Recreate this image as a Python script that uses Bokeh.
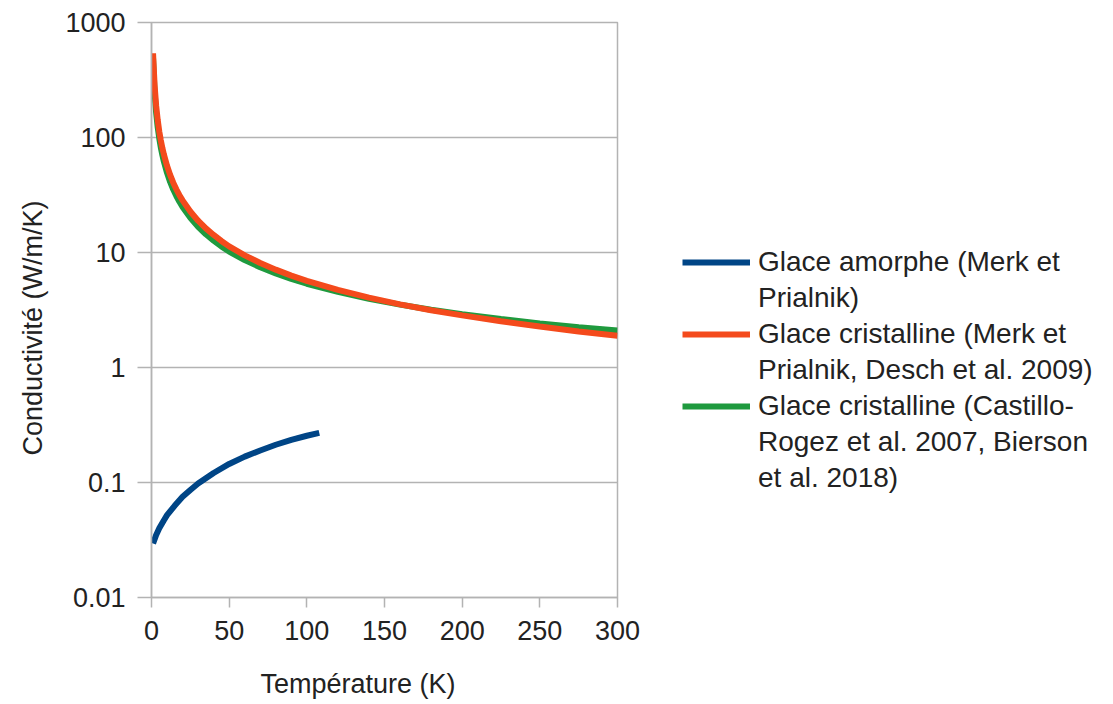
from bokeh.plotting import figure
from bokeh.models import Legend, LegendItem, FixedTicker, Range1d, Title
from bokeh.embed import file_html
from bokeh.resources import INLINE

# --- data ---
t_amorph = [1, 3, 5, 8, 10, 15, 20, 25, 30, 40, 50, 60, 70, 80, 90, 100, 108]
k_amorph = [0.0295, 0.035, 0.040, 0.047, 0.052, 0.063, 0.075, 0.086, 0.098,
            0.121, 0.145, 0.168, 0.19, 0.213, 0.235, 0.255, 0.27]

t_cryst = [1, 2, 3, 4, 5, 6, 7, 8, 10, 12, 14, 16, 18, 20, 25, 30, 35, 40, 45,
           50, 60, 70, 80, 90, 100, 120, 140, 160, 180, 200, 225, 250, 275, 300]
k_merk = [540, 284, 189, 142, 113, 94.5, 81, 71, 56.7, 47.3, 40.5, 35.4, 31.5,
          28.4, 22.7, 18.9, 16.2, 14.2, 12.6, 11.3, 9.45, 8.1, 7.09, 6.3, 5.67,
          4.73, 4.05, 3.54, 3.15, 2.84, 2.52, 2.27, 2.06, 1.89]
k_castillo = [488.6, 244.5, 163.2, 122.5, 98.1, 81.8, 70.2, 61.5, 49.3, 41.1,
              35.3, 31.0, 27.6, 24.9, 20.0, 16.7, 14.4, 12.7, 11.3, 10.2, 8.6,
              7.44, 6.57, 5.89, 5.35, 4.54, 3.95, 3.52, 3.18, 2.91, 2.64, 2.42,
              2.24, 2.10]

# legend labels, one list of text lines per series
labels = [["Glace amorphe (Merk et", "Prialnik)"],
          ["Glace cristalline (Merk et", "Prialnik, Desch et al. 2009)"],
          ["Glace cristalline (Castillo-", "Rogez et al. 2007, Bierson",
           "et al. 2018)"]]

y_ticks = [0.01, 0.1, 1, 10, 100, 1000]
y_tick_labels = ["0.01", "0.1", "1", "10", "100", "1000"]
x_ticks = [0, 50, 100, 150, 200, 250, 300]

FONT = "Liberation Sans"
GRID = "#b3b3b3"
TXT = "#222222"
C_BLUE = "#004586"
C_RED = "#f44a1c"
C_GREEN = "#1f9a3e"

p = figure(frame_width=466, frame_height=575, y_axis_type="log",
           x_range=Range1d(0, 300), y_range=Range1d(0.01, 1000),
           output_backend="svg", toolbar_location=None,
           min_border_left=151, min_border_top=22, min_border_right=480,
           min_border_bottom=105)

r_blue = p.line(t_amorph, k_amorph, line_color=C_BLUE, line_width=6)
r_green = p.line(t_cryst, k_castillo, line_color=C_GREEN, line_width=6)
r_red = p.line(t_cryst, k_merk, line_color=C_RED, line_width=6)
r_none = p.line([], [], line_alpha=0)   # invisible glyph for continuation lines

p.xgrid.visible = False
p.ygrid.grid_line_color = GRID
p.ygrid.grid_line_width = 1.5
p.ygrid.minor_grid_line_color = None
p.outline_line_color = GRID
p.outline_line_width = 1.5

p.xaxis.ticker = FixedTicker(ticks=x_ticks)
p.yaxis.ticker = FixedTicker(ticks=y_ticks)
p.yaxis.major_label_overrides = {v: s for v, s in zip(y_ticks, y_tick_labels)}

for ax in (p.xaxis[0], p.yaxis[0]):
    ax.axis_line_color = GRID
    ax.axis_line_width = 1.5
    ax.major_tick_line_color = GRID
    ax.major_tick_line_width = 1.5
    ax.major_tick_in = 0
    ax.minor_tick_line_color = None
    ax.major_label_text_font = FONT
    ax.major_label_text_font_size = "27px"
    ax.major_label_text_color = TXT

p.xaxis.major_tick_out = 10
p.yaxis.major_tick_out = 14
p.xaxis.major_label_standoff = 13
p.yaxis.major_label_standoff = 12

xt = Title(text="Température (K)", align="left", offset=109,
           text_font=FONT, text_font_size="27px", text_font_style="normal",
           text_color=TXT, standoff=48)
p.add_layout(xt, "below")
yt = Title(text="Conductivité (W/m/K)", align="left", offset=142,
           text_font=FONT, text_font_size="27px", text_font_style="normal",
           text_color=TXT, standoff=30)
p.add_layout(yt, "left")

items = []
for lines, r in zip(labels, [r_blue, r_red, r_green]):
    for i, ln in enumerate(lines):
        items.append(LegendItem(label=ln, renderers=[r if i == 0 else r_none]))

legend = Legend(items=items, location=(65, 103))
legend.border_line_color = None
legend.background_fill_alpha = 0
legend.padding = 0
legend.margin = 0
legend.glyph_width = 68
legend.glyph_height = 20
legend.label_height = 20
legend.label_standoff = 8
legend.spacing = 4
legend.label_text_font = FONT
legend.label_text_font_size = "28px"
legend.label_text_color = TXT
p.add_layout(legend, "right")

open("out.html", "w").write(file_html(p, INLINE))
